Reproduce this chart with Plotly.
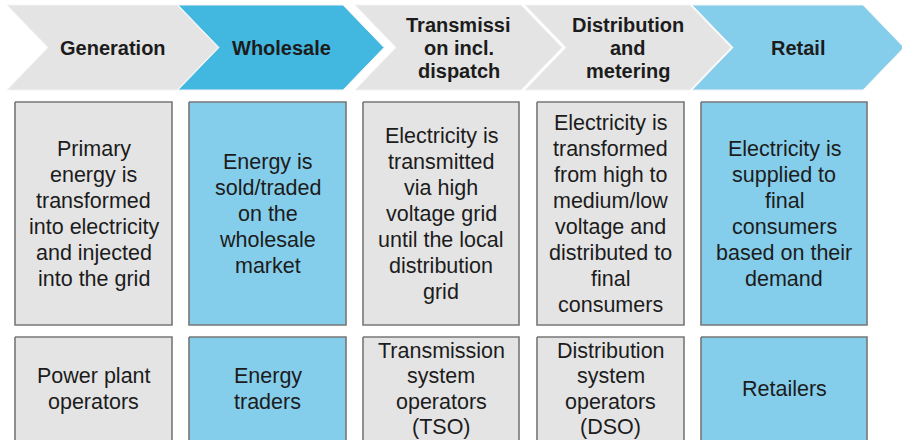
import plotly.graph_objects as go

# value chain stages (header chevrons)
stages = ["Generation", "Wholesale", "Transmissi\non incl.\ndispatch",
          "Distribution\nand\nmetering", "Retail"]
activities = [
    "Primary\nenergy is\ntransformed\ninto electricity\nand injected\ninto the grid",
    "Energy is\nsold/traded\non the\nwholesale\nmarket",
    "Electricity is\ntransmitted\nvia high\nvoltage grid\nuntil the local\ndistribution\ngrid",
    "Electricity is\ntransformed\nfrom high to\nmedium/low\nvoltage and\ndistributed to\nfinal\nconsumers",
    "Electricity is\nsupplied to\nfinal\nconsumers\nbased on their\ndemand",
]
actors = ["Power plant\noperators", "Energy\ntraders", "Transmission\nsystem\noperators\n(TSO)",
          "Distribution\nsystem\noperators\n(DSO)", "Retailers"]
chevron_colors = ["#e4e4e4", "#42b7e0", "#e4e4e4", "#e4e4e4", "#85ceeb"]
box_colors = ["#e4e4e4", "#85ceeb", "#e4e4e4", "#e4e4e4", "#85ceeb"]

# geometry
chev_left = [7, 178, 355, 525, 692]
chev_right = [177, 343, 521, 690, 863]
chev_top, chev_bot, depth = 5, 90, 41
box_left = [15, 189, 363, 537, 701]
box_right = [172, 346, 519, 684, 867]
rows = [(102, 325, 214, 26), (337, 452, 389, 25.5)]

TEXT = "#1c1c1c"
FONT = "Liberation Sans, Arial, sans-serif"

fig = go.Figure()
annotations = []


def add_lines(text, cx, cy, size, spacing, bold=False):
    lines = text.split("\n")
    n = len(lines)
    for i, line in enumerate(lines):
        annotations.append(dict(
            x=cx, y=cy + (i - (n - 1) / 2) * spacing, xref="x", yref="y",
            text=f"<b>{line}</b>" if bold else line, showarrow=False,
            font=dict(size=size, color=TEXT, family=FONT),
            xanchor="center", yanchor="middle",
            borderpad=0,
        ))


mid = (chev_top + chev_bot) / 2
for i, name in enumerate(stages):
    L, R = chev_left[i], chev_right[i]
    fig.add_trace(go.Scatter(
        x=[L, R, R + depth, R, L, L + depth, L],
        y=[chev_top, chev_top, mid, chev_bot, chev_bot, mid, chev_top],
        mode="lines", fill="toself", fillcolor=chevron_colors[i],
        line=dict(color="#f4f4f4", width=1), hoverinfo="skip",
    ))
    add_lines(name, (L + R + depth) / 2, mid, 20, 23, bold=True)

for r, texts in enumerate([activities, actors]):
    top, bot, cy, spacing = rows[r]
    for i, t in enumerate(texts):
        L, R = box_left[i], box_right[i]
        fig.add_trace(go.Scatter(
            x=[L, R, R, L, L], y=[top, top, bot, bot, top],
            mode="lines", fill="toself", fillcolor=box_colors[i],
            line=dict(color="#777777", width=1.6), hoverinfo="skip",
        ))
        add_lines(t, (L + R) / 2, cy, 21.5, spacing)

fig.update_layout(
    width=902, height=440,
    margin=dict(t=0, b=0, l=0, r=0),
    paper_bgcolor="white", plot_bgcolor="white",
    showlegend=False,
    xaxis=dict(range=[0, 902], visible=False, fixedrange=True),
    yaxis=dict(range=[440, 0], visible=False, fixedrange=True),
    annotations=annotations,
)
fig.write_html("out.html", config={"displayModeBar": False},
               post_script="document.body.style.margin='0';")
